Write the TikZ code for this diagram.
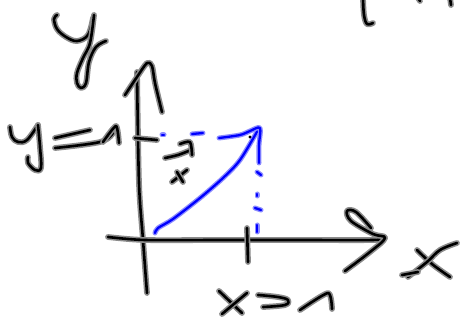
\documentclass[tikz,border=0pt]{standalone}
\begin{document}
\begin{tikzpicture}[x=1pt,y=-1pt,
  ink/.style={draw=black,line width=2.6pt,line cap=round,line join=round,
    preaction={draw=black!45,line width=5.8pt,line cap=round,line join=round}},
  bink/.style={draw=blue,line width=2.3pt,line cap=round,line join=round,
    preaction={draw=blue!45,line width=5pt,line cap=round,line join=round}}]
\useasboundingbox (0,0) rectangle (460,320);
% y label
\draw[ink] plot[smooth,tension=0.6] coordinates {(57,15)(54,19)(57,29)(66,37)(77,41)(88,35)(93,18)};
\draw[ink] plot[smooth,tension=0.6] coordinates {(94,15)(90,43)(83,58)(77,73)(77,83)(81,88)(86,83)(89,62)(96,47)(106,41)};
% vertical axis
\draw[ink] plot[smooth,tension=0.5] coordinates {(147,293)(143,240)(139,183)(137,72)};
\draw[ink] plot[smooth,tension=0.5] coordinates {(125,95)(137,77)(147,63)(152,66)(155,83)(162,112)};
% horizontal axis
\draw[ink] plot[smooth,tension=0.5] coordinates {(108,237)(145,240)(220,240)(300,240)(373,240)(385,238)};
\draw[ink] plot[smooth,tension=0.6] coordinates {(371,228)(356,212)(347,211)(351,221)(373,234)(385,238)(370,252)(345,271)};
% ticks
\draw[ink] (247,228) -- (248,262);
\draw[ink] (135,138) -- (157,140);
% x label right
\draw[ink] plot[smooth,tension=0.6] coordinates {(417,250)(432,264)(450,277)};
\draw[ink] plot[smooth,tension=0.6] coordinates {(457,243)(440,250)(427,262)(408,277)};
\draw[ink] (402,275) -- (418,272);
% y=1
\draw[ink] plot[smooth,tension=0.6] coordinates {(10,127)(12,137)(18,142)(27,140)(38,125)};
\draw[ink] plot[smooth,tension=0.6] coordinates {(38,125)(40,147)(41,168)(35,170)(28,163)(28,157)};
\draw[ink] (55,138) -- (90,130);
\draw[ink] plot[smooth,tension=0.6] coordinates {(55,148)(100,142)(113,133)};
\draw[ink] plot[smooth,tension=0.4] coordinates {(103,142)(116,126)(119,143)};
% x=1
\draw[ink] (219,291) -- (242,313);
\draw[ink] (247,293) -- (222,314);
\draw[ink] plot[smooth,tension=0.6] coordinates {(258,295)(278,297)(288,300)(285,305)(263,307)};
\draw[ink] plot[smooth,tension=0.4] coordinates {(300,310)(328,293)(332,309)};
% vector label
\draw[ink] plot[smooth,tension=0.5] coordinates {(165,158)(178,155)(191,150)};
\draw[ink] plot[smooth,tension=0.5] coordinates {(180,144)(190,142)(192,155)};
\draw[ink] (172,182) -- (187,170);
\draw[ink] (177,172) -- (183,182);
% top right fragments
\draw[ink] plot[smooth,tension=0.6] coordinates {(363,-2)(364,15)(367,24)(373,23)};
\draw[ink] (418,-2) -- (420,1);
\draw[ink] (450,-2) -- (451,5);
% blue vector
\draw[bink] plot[smooth,tension=0.5] coordinates {(155,233)(158,228)(173,219)(200,198)(223,178)(240,160)(258,130)};
\draw[bink] plot[smooth,tension=0.5] coordinates {(219,138)(240,135)(250,131)(260,128)(259,145)(259,163)};
\draw[bink] (162,135) -- (164,135);
\draw[bink] (192,134) -- (203,133);
\draw[bink] (257,172) -- (261,175);
\draw[bink] (257,194) -- (257,196);
\draw[bink] (255,208) -- (261,210);
\draw[bink] (257,225) -- (257,232);
\fill[black] (250,137) circle (1.6pt);
\end{tikzpicture}
\end{document}
